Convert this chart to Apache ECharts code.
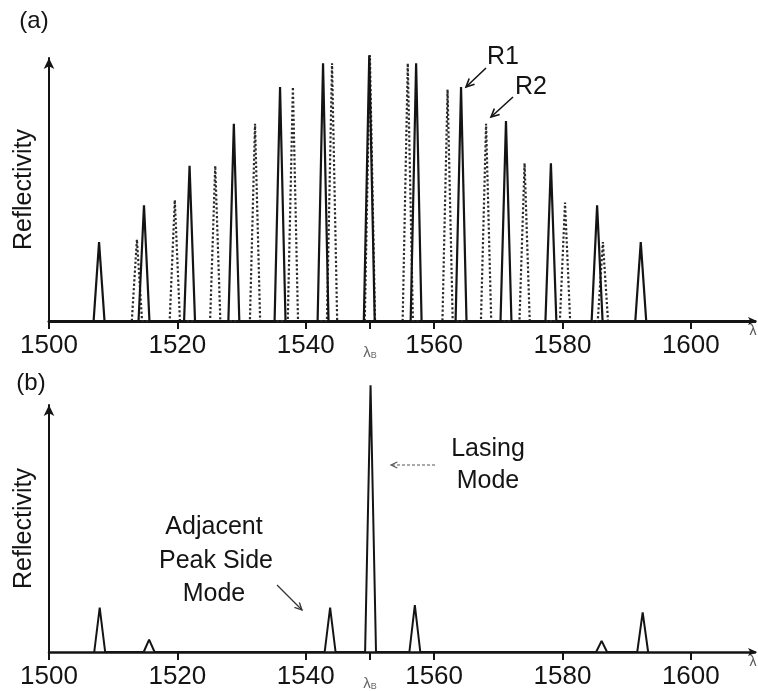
<!DOCTYPE html>
<html>
<head>
<meta charset="utf-8">
<script src="https://cdn.jsdelivr.net/npm/echarts@6/dist/echarts.min.js"></script>
<style>
html,body{margin:0;padding:0;background:#fff;}
#chart{width:758px;height:691px;}
</style>
</head>
<body>
<div id="chart"></div>
<script>
// ---- data ----
const xLabelValues = [1500, 1520, 1540, 1560, 1580, 1600];
const lambdaB = 1550;

// Panel (a): comb R1 (solid) and comb R2 (dotted)
const r1Centers = [1507.8, 1514.8, 1521.9, 1528.8, 1536.0, 1542.7, 1549.9, 1557.2, 1564.2, 1571.2, 1578.2, 1585.4, 1592.2];
const r1Heights = [0.30, 0.44, 0.59, 0.75, 0.89, 0.98, 1.01, 0.98, 0.89, 0.76, 0.60, 0.44, 0.30];
const r2Centers = [1513.7, 1519.6, 1525.9, 1532.1, 1538.0, 1544.1, 1550.0, 1555.9, 1562.1, 1568.1, 1574.1, 1580.4, 1586.3];
const r2Heights = [0.31, 0.46, 0.59, 0.75, 0.89, 0.98, 1.01, 0.98, 0.88, 0.75, 0.60, 0.45, 0.30];

// Panel (b): combined reflectivity
const bCenters = [1507.9, 1515.6, 1543.8, 1550.1, 1557.0, 1586.1, 1592.5];
const bHeights = [0.18, 0.05, 0.18, 1.08, 0.19, 0.045, 0.16];

// ---- build line points for narrow spectral peaks ----
function peakLine(centers, heights, halfWidth) {
  const pts = [];
  centers.forEach((c, i) => {
    pts.push([c - halfWidth, 0]);
    pts.push([c, heights[i]]);
    pts.push([c + halfWidth, 0]);
  });
  return pts;
}

const FONT = 'Liberation Sans, Arial, sans-serif';
const INK = '#141414';

function xAxisFor(i) {
  return {
    gridIndex: i, type: 'value', min: 1500, max: 1610,
    axisLine: { show: true, symbol: ['none', 'arrow'], symbolSize: [6, 9], symbolOffset: [0, 2],
      lineStyle: { color: INK, width: i === 0 ? 3 : 2.5 } },
    axisTick: { show: true, customValues: xLabelValues.concat([lambdaB]), length: 8, inside: false,
      lineStyle: { color: INK, width: 2 } },
    axisLabel: {
      customValues: xLabelValues.concat([lambdaB]),
      margin: 12,
      fontSize: 26, fontFamily: FONT, color: INK,
      formatter: v => v === lambdaB ? '{l|λ}{s|B}' : String(v),
      rich: {
        l: { fontSize: 15, color: '#666', fontFamily: FONT, padding: [12, 0, 0, 0] },
        s: { fontSize: 9, color: '#666', fontFamily: FONT, padding: [18, 0, 0, 0] }
      }
    },
    splitLine: { show: false }
  };
}
function yAxisFor(i) {
  return {
    gridIndex: i, type: 'value', min: 0, max: 1,
    axisLine: { show: true, symbol: ['none', 'arrow'], symbolSize: [8, 11],
      lineStyle: { color: INK, width: 2 } },
    axisTick: { show: false }, axisLabel: { show: false }, splitLine: { show: false },
    name: 'Reflectivity', nameLocation: 'middle', nameGap: 12, nameRotate: 90,
    nameTextStyle: { fontSize: 25, fontFamily: FONT, color: INK }
  };
}

function arrow(x1, y1, x2, y2, opts) {
  const o = opts || {};
  const ang = Math.atan2(y2 - y1, x2 - x1);
  const L = o.head || 9, a = 0.45;
  const p1 = [x2 - L * Math.cos(ang - a), y2 - L * Math.sin(ang - a)];
  const p2 = [x2 - L * Math.cos(ang + a), y2 - L * Math.sin(ang + a)];
  const st = { stroke: o.color || INK, lineWidth: o.width || 1.6, lineDash: o.dash || null, fill: null };
  return [
    { type: 'line', shape: { x1, y1, x2, y2 }, style: st },
    { type: 'polyline', shape: { points: [p1, [x2, y2], p2] }, style: { stroke: o.color || INK, lineWidth: o.width || 1.6, fill: null } }
  ];
}
function txt(x, y, s, size, color) {
  return { type: 'text', x, y, style: { text: s, fontSize: size || 26, fontFamily: FONT, fill: color || INK, align: 'center', verticalAlign: 'middle' } };
}

const chart = echarts.init(document.getElementById('chart'), null, { renderer: 'canvas' });
const option = {
  animation: false,
  backgroundColor: '#ffffff',
  grid: [
    { left: 49, right: 3, top: 58, height: 263 },
    { left: 49, right: 3, top: 405, height: 247 }
  ],
  xAxis: [xAxisFor(0), xAxisFor(1)],
  yAxis: [yAxisFor(0), yAxisFor(1)],
  series: [
    { type: 'line', name: 'R2', xAxisIndex: 0, yAxisIndex: 0, data: peakLine(r2Centers, r2Heights, 0.8),
      symbol: 'none', clip: false, lineStyle: { color: '#2a2a2a', width: 2.2, type: 'dotted' }, z: 3 },
    { type: 'line', name: 'R1', xAxisIndex: 0, yAxisIndex: 0, data: peakLine(r1Centers, r1Heights, 0.85),
      symbol: 'none', clip: false, lineStyle: { color: INK, width: 2.2 }, z: 4 },
    { type: 'line', name: 'b', xAxisIndex: 1, yAxisIndex: 1, data: peakLine(bCenters, bHeights, 0.85),
      symbol: 'none', clip: false, lineStyle: { color: INK, width: 2 }, z: 4 }
  ],
  graphic: [
    txt(34, 21, '(a)', 24),
    txt(31, 383, '(b)', 24),
    txt(503, 57, 'R1', 25),
    txt(531, 87, 'R2', 25),
    ...arrow(486, 68, 466, 87),
    ...arrow(513, 97, 491, 117),
    txt(488, 449, 'Lasing', 25),
    txt(488, 481, 'Mode', 25),
    ...arrow(435, 465, 391, 465, { dash: [3, 2], color: '#555', width: 1.2, head: 7 }),
    txt(214, 527, 'Adjacent', 25),
    txt(216, 561, 'Peak Side', 25),
    txt(214, 594, 'Mode', 25),
    ...arrow(277, 585, 302, 610, { color: '#333', width: 1.3, head: 8 }),
    txt(753, 331, 'λ', 14, '#555'),
    txt(753, 662, 'λ', 14, '#555')
  ]
};
chart.setOption(option);
</script>
</body>
</html>
